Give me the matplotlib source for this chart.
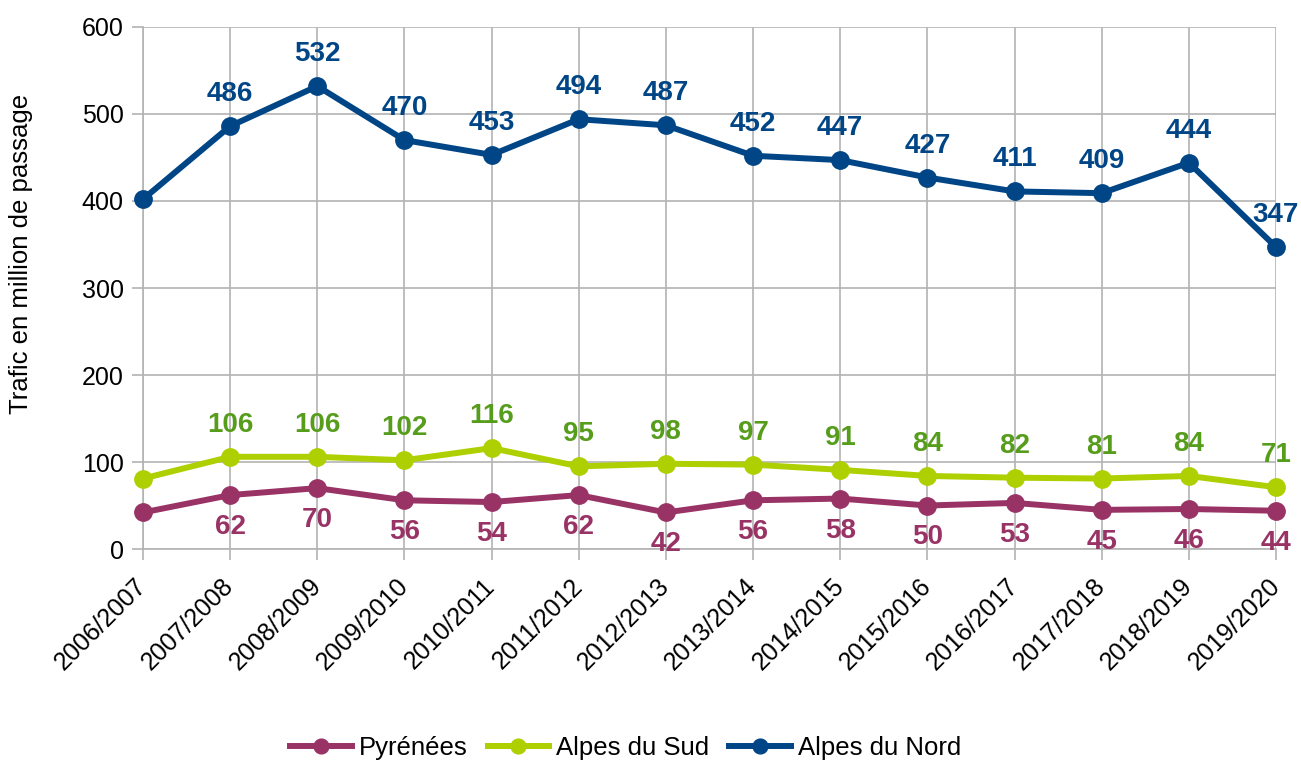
import matplotlib
matplotlib.use("Agg")
import matplotlib.pyplot as plt

plt.rcParams['font.family'] = ['Liberation Sans', 'DejaVu Sans']

seasons = ["2006/2007", "2007/2008", "2008/2009", "2009/2010", "2010/2011", "2011/2012",
           "2012/2013", "2013/2014", "2014/2015", "2015/2016", "2016/2017", "2017/2018",
           "2018/2019", "2019/2020"]
pyrenees = [42, 62, 70, 56, 54, 62, 42, 56, 58, 50, 53, 45, 46, 44]
alpes_sud = [81, 106, 106, 102, 116, 95, 98, 97, 91, 84, 82, 81, 84, 71]
alpes_nord = [402, 486, 532, 470, 453, 494, 487, 452, 447, 427, 411, 409, 444, 347]
y_ticks = [0, 100, 200, 300, 400, 500, 600]

series = [
    ("Pyrénées", pyrenees, "#993366", "#993366", -1),
    ("Alpes du Sud", alpes_sud, "#aecf00", "#579d1c", 1),
    ("Alpes du Nord", alpes_nord, "#004586", "#004586", 1),
]

fig = plt.figure(figsize=(13.01, 7.6), dpi=100)
ax = fig.add_axes([0.1099, 0.2776, 0.8709, 0.6869])
x = list(range(len(seasons)))

for name, vals, col, lcol, direction in series:
    ax.plot(x, vals, color=col, lw=4.3, marker="o", ms=12.5, label=name,
            solid_joinstyle="round", zorder=3, clip_on=False)
    for i in range(1, len(vals)):
        ax.annotate(str(vals[i]), (x[i], vals[i]), xytext=(0, 23 * direction),
                    textcoords="offset points", ha="center", va="center",
                    fontsize=20, fontweight="bold", color=lcol, zorder=4)

ax.set_xlim(0, len(seasons) - 1)
ax.set_ylim(0, 600)
ax.set_yticks(y_ticks)
ax.set_xticks(x)
ax.set_xticklabels(seasons, rotation=45, ha="right", va="center", rotation_mode="anchor")
ax.tick_params(axis="both", labelsize=18, color="#b3b3b3", length=8, width=1.2)
ax.tick_params(axis="y", pad=6)
ax.tick_params(axis="x", pad=16)
ax.grid(True, color="#b3b3b3", lw=1.2, zorder=0)
ax.set_axisbelow(True)
for s in ["top", "right"]:
    ax.spines[s].set_visible(False)
for s in ["left", "bottom"]:
    ax.spines[s].set_color("#b3b3b3")
    ax.spines[s].set_linewidth(1.2)
ax.set_ylabel("Trafic en million de passage", fontsize=18.5)
ax.yaxis.set_label_coords(-0.097, 0.565)

fig.legend(loc="center", bbox_to_anchor=(0.481, 0.016), ncol=3, frameon=False,
           fontsize=18.5, handlelength=2.4, columnspacing=0.78, handletextpad=0.27,
           markerscale=0.85)

fig.savefig("out.png", dpi=100)
